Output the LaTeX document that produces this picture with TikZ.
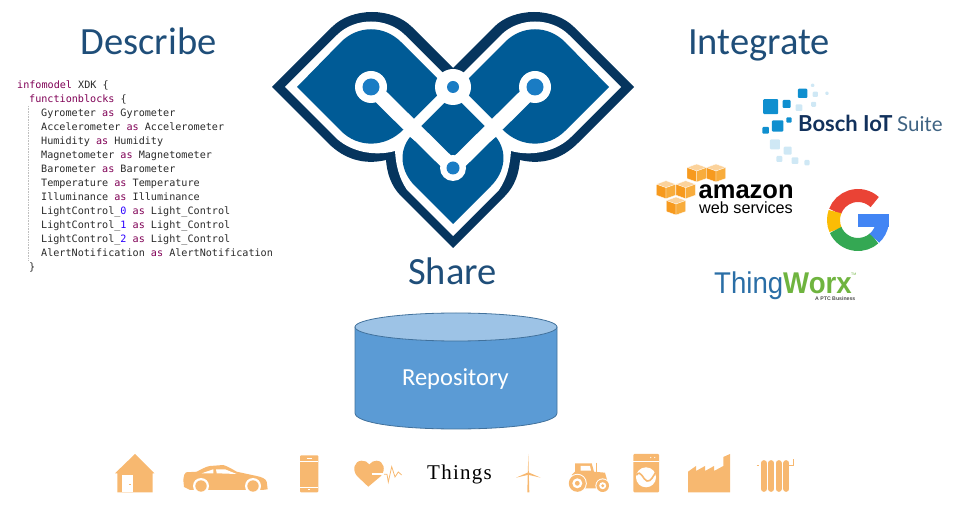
\documentclass[tikz,border=0pt]{standalone}
\usepackage{fontspec}
\setmainfont{Carlito}
\setmonofont{DejaVu Sans Mono}
\newfontfamily\arialfont{Liberation Sans}
\newfontfamily\worxfont[FakeStretch=0.92]{Liberation Sans}
\newfontfamily\thingsfont[LetterSpace=6]{Liberation Serif}
\newfontfamily\boschfont{Lato}
\usetikzlibrary{positioning}

\definecolor{headblue}{HTML}{1F4E79}
\definecolor{logodark}{HTML}{06355E}
\definecolor{logoblue}{HTML}{005B96}
\definecolor{logodot}{HTML}{1A7CC4}
\definecolor{repoblue}{HTML}{5B9BD5}
\definecolor{repotop}{HTML}{9DC3E6}
\definecolor{repoline}{HTML}{41719C}
\definecolor{iconorange}{HTML}{F7B870}
\definecolor{codepurple}{HTML}{7F0055}
\definecolor{codegrey}{HTML}{2A2A2A}
\definecolor{codeblue}{HTML}{2A00FF}
\definecolor{boschdark}{HTML}{0F8FCF}
\definecolor{boschlight}{HTML}{CFE8F5}
\definecolor{boschtext}{HTML}{12315C}
\definecolor{boschsuite}{HTML}{3F6383}
\definecolor{worxblue}{HTML}{2A6EA6}
\definecolor{worxgreen}{HTML}{6FB43F}
\definecolor{awstop}{HTML}{FBD29B}
\definecolor{awsleft}{HTML}{F79A1E}
\definecolor{awsright}{HTML}{F8AC3C}
\definecolor{gred}{HTML}{EA4335}
\definecolor{gyellow}{HTML}{FBBC05}
\definecolor{ggreen}{HTML}{34A853}
\definecolor{gblue}{HTML}{4285F4}
\newcommand{\kw}[1]{\textcolor{codepurple}{#1}}
\newcommand{\num}[1]{\textcolor{codeblue}{#1}}

\begin{document}
\begin{tikzpicture}[
            x=1pt, y=-1pt,
            heading/.style={inner sep=0, anchor=base, text=headblue, font=\fontsize{38.5}{40}\selectfont},
            codeline/.style={inner sep=0, anchor=base west, text=codegrey, font=\ttfamily\fontsize{10.13}{12}\selectfont},
            logotext/.style={inner sep=0, anchor=base west},
            wline/.style={draw=white, line width=15pt},
            cline/.style={draw=white, line width=10pt},
            icon/.style={fill=iconorange},
            iconcut/.style={fill=white}
        ]
\useasboundingbox (0,0) rectangle (967,518);

% headings
\node[heading] (describe) at (148.5,54.3) {Describe};
\node[heading] (integrate) at (759,54.3) {Integrate};
\node[heading] (share) at (452.5,284.5) {Share};

% code
\node[codeline] (model) at (17,89) {\kw{infomodel} XDK \{};
\node[codeline] (blocks) at (29,103) {\kw{functionblocks} \{};
\foreach \fbname/\fbtype [count=\i] in {Gyrometer/Gyrometer, Accelerometer/Accelerometer, Humidity/Humidity, Magnetometer/Magnetometer, Barometer/Barometer, Temperature/Temperature, Illuminance/Illuminance}
    \node[codeline] (fb\i) at (41,{103+14*\i}) {\fbname{} \kw{as} \fbtype};
\node[codeline] (light0) at (41,215) {LightControl\_\num{0} \kw{as} Light\_Control};
\node[codeline] (light1) at (41,229) {LightControl\_\num{1} \kw{as} Light\_Control};
\node[codeline] (light2) at (41,243) {LightControl\_\num{2} \kw{as} Light\_Control};
\node[codeline] (alert) at (41,257) {AlertNotification \kw{as} AlertNotification};
\node[codeline] (close) at (29,271) {\}};
\draw[gray!50, densely dotted, line width=.6pt] (28.5,106) -- (28.5,261);

% logo
\begin{scope}[shift={(453,0)}]
\fill[logodark] (-181,87) -- (-121,27) .. controls (-101,7) and (-61,7) .. (-41,27) -- (0,68)
    -- (41,27) .. controls (61,7) and (101,7) .. (121,27) -- (181,87) -- (125,143)
    .. controls (108,160) and (88,165) .. (67,160) .. controls (66,173) and (62,186) .. (52,196)
    -- (0,248) -- (-52,196) .. controls (-62,186) and (-66,173) .. (-67,160)
    .. controls (-88,165) and (-108,160) .. (-125,143) -- cycle;
\fill[white] (-168,87) -- (-116,35) .. controls (-98,17) and (-66,17) .. (-48,35) -- (0,83)
    -- (48,35) .. controls (66,17) and (98,17) .. (116,35) -- (168,87) -- (118,137)
    .. controls (104,151) and (80,157) .. (58,151) .. controls (57,166) and (54,178) .. (46,190)
    -- (0,236) -- (-46,190) .. controls (-54,178) and (-57,166) .. (-58,151)
    .. controls (-80,157) and (-104,151) .. (-118,137) -- cycle;
\foreach \s in {1,-1} {
    \begin{scope}[xscale=\s]
    \fill[logoblue] (-156,87) -- (-112,42) .. controls (-95,25) and (-69,25) .. (-52,42) -- (-15,79)
        -- (-8,95) -- (-41,128) -- (-50,130) .. controls (-68,148) and (-95,148) .. (-112,131) -- cycle;
    \end{scope}
}
\fill[logoblue] (0,224) -- (-38,186) .. controls (-52,172) and (-55,152) .. (-43,137) -- (0,169)
    -- (43,137) .. controls (55,152) and (52,172) .. (38,186) -- cycle;
\fill[logoblue] (0,87) -- (-41,128) -- (0,169) -- (41,128) -- cycle;
\draw[cline] (0,87) -- (-41,128);
\draw[cline] (0,87) -- (41,128);
\draw[wline] (-82,87) -- (0,168) -- (82,87);
\fill[white] (-82,87) circle[radius=16pt] (82,87) circle[radius=16pt] (0,87) circle[radius=18pt] (0,168) circle[radius=13pt];
\fill[logodot] (-82,87) circle[radius=8.5pt] (82,87) circle[radius=8.5pt] (0,87) circle[radius=6pt] (0,168) circle[radius=6.5pt];
\end{scope}

% repository
\draw[repoline, fill=repoblue, line width=.8pt] (355,327) -- (355,413) .. controls (355,423) and (400,429) .. (456,429)
    .. controls (512,429) and (557,423) .. (557,413) -- (557,327) -- cycle;
\draw[repoline, fill=repotop, line width=.8pt] (456,327) ellipse[x radius=101pt, y radius=14pt];
\node[inner sep=0, anchor=base, text=white, font=\fontsize{24.5}{26}\selectfont] (repo) at (455.5,385.5) {Repository};

% bosch
\begin{scope}[shift={(640,70)}, x=.3333pt, y=-.3333pt]
\foreach \bx/\by/\bs in {392/110/45, 440/102/24, 488/70/28, 413/168/34, 447/150/16, 377/181/20}
    \fill[boschdark, rounded corners=1pt] ({\bx-\bs/2},{\by-\bs/2}) rectangle ({\bx+\bs/2},{\by+\bs/2});
\foreach \bx/\by/\bs in {477/113/20, 526/73/16, 521/103/15, 518/46/10, 561/70/10, 405/223/30, 443/242/24, 418/267/18, 465/272/20, 501/278/16}
    \fill[boschlight, rounded corners=1pt] ({\bx-\bs/2},{\by-\bs/2}) rectangle ({\bx+\bs/2},{\by+\bs/2});
\end{scope}
\node[logotext, text=boschtext, font=\boschfont\bfseries\fontsize{22}{24}\selectfont] (bosch) at (798,131.7) {Bosch IoT};
\node[logotext, text=boschsuite, font=\boschfont\fontsize{20.5}{22}\selectfont] (suite) at (897,131.7) {Suite};

% aws
\foreach \cx/\cy in {696.7/164, 716/164, 666/180.7, 685.7/180.7, 676/197} {
    \begin{scope}[shift={(\cx,\cy)}]
    \fill[awstop, draw=white, line width=.3pt] (0,0) -- (9.7,3.5) -- (0,7) -- (-9.7,3.5) -- cycle;
    \fill[awsleft, draw=white, line width=.3pt] (-9.7,3.5) -- (0,7) -- (0,18) -- (-9.7,14.5) -- cycle;
    \fill[awsright, draw=white, line width=.3pt] (9.7,3.5) -- (0,7) -- (0,18) -- (9.7,14.5) -- cycle;
    \end{scope}
}
\node[logotext, text=black, font=\arialfont\bfseries\fontsize{25.5}{27}\selectfont] (amazon) at (698.5,199) {amazon};
\node[logotext, text=black, font=\arialfont\fontsize{16.2}{18}\selectfont] (webservices) at (699,214) {web services};

% google
\begin{scope}[shift={(858,220)}, y=1pt]
\draw[gred, line width=13pt] (47:24.5pt) arc[start angle=47, end angle=160, radius=24.5pt];
\draw[gyellow, line width=13pt] (160:24.5pt) arc[start angle=160, end angle=204, radius=24.5pt];
\draw[ggreen, line width=13pt] (204:24.5pt) arc[start angle=204, end angle=312, radius=24.5pt];
\draw[gblue, line width=13pt] (312:24.5pt) arc[start angle=312, end angle=352, radius=24.5pt];
\fill[gblue] (0,6) rectangle (30.6,-7);
\end{scope}

% thingworx
\node[logotext, text=worxblue, font=\worxfont\fontsize{30}{32}\selectfont] (thing) at (714,293.5) {Thing};
\node[logotext, text=worxgreen, font=\worxfont\bfseries\fontsize{30}{32}\selectfont] (worx) at (783,293.5) {Worx};
\node[logotext, text=worxgreen, font=\arialfont\fontsize{3.5}{4}\selectfont] (worxtm) at (851,276) {TM};
\node[logotext, text=black!70, font=\arialfont\bfseries\fontsize{5.2}{6}\selectfont] (ptc) at (815,301) {A PTC Business};

% things row
\node[inner sep=0, anchor=base, font=\thingsfont\fontsize{21}{23}\selectfont] (things) at (459.5,480) {Things};

% house
\fill[icon] (135,454) -- (154.3,473.3) -- (152.7,473.3) -- (152.7,492.3) -- (117.3,492.3) -- (117.3,473.3) -- (115,473.3) -- cycle;
\fill[iconcut] (121.7,475) rectangle (133,492.3);
\fill[icon] (128.5,484.5) rectangle (130.5,485.5);

% car
\fill[icon] (183.3,480) .. controls (184,476) and (184,473) .. (186,472.3) -- (196.7,471.7) .. controls (202,469) and (206,466.5) .. (210,466)
    -- (223.3,465) .. controls (228,466.5) and (232,469) .. (236.7,471.7) -- (256.7,476) .. controls (262,477) and (266,479) .. (266.7,481.7)
    -- (267.7,489.3) -- (262,490) -- (190,490) -- (184,487) -- cycle;
\fill[iconcut] (201.7,473.3) -- (213.3,469.3) -- (213.3,473.3) -- cycle;
\fill[iconcut] (216,469.3) -- (225,469.3) -- (236.7,474) -- (216.7,473.3) -- cycle;
\foreach \wx in {201,253} {
    \fill[iconcut] (\wx,486) circle[radius=8pt];
    \fill[icon] (\wx,486) circle[radius=5.7pt];
}

% phone
\fill[icon, rounded corners=1pt] (300,455.3) rectangle (318.3,492.3);
\draw[white, line width=.6pt] (300,461) -- (318.3,461) (300,487) -- (318.3,487);
\draw[white, line width=.7pt] (306.5,458) -- (312,458) (308,489.7) -- (310,489.7);

% heart
\fill[icon] (368.3,486.7) -- (357,476) .. controls (352,470) and (354,461) .. (361.7,460.7)
    .. controls (365,460.5) and (368,462) .. (369.3,464.5) .. controls (371,462) and (374,460.5) .. (376.7,460.7)
    .. controls (384,461) and (386,470) .. (381,476) -- cycle;
\draw[white, line width=1.6pt] (371.7,474.3) -- (384,474.3);
\draw[iconorange, line width=.8pt] (384,474.3) -- (387,474.3) -- (388.3,482) -- (391.7,466.7) -- (395,477) -- (398.3,472) -- (401.7,475);

% turbine
\fill[icon] (527.8,473.3) -- (528.3,454) -- (528.8,473.3) -- (529.3,492.3) -- (527.3,492.3) -- cycle;
\fill[icon] (528.3,472.3) -- (516,477.7) -- (528.3,474.8) -- cycle;
\fill[icon] (528.3,472.3) -- (540.7,477.7) -- (528.3,474.8) -- cycle;

% tractor
\fill[icon] (575,463.3) -- (591.7,463.3) -- (594,471.7) -- (605,472.7) -- (607.3,480.7) -- (598.3,481.7) -- (596.7,488.3)
    -- (585,488.3) -- (571.7,475) -- (575,471.7) -- cycle;
\fill[iconcut] (580.7,466) -- (590,466) -- (591,470.7) -- (580.7,470.7) -- cycle;
\draw[iconorange, line width=1.5pt] (596.7,462.7) -- (596.7,472);
\fill[iconcut] (577.3,483.3) circle[radius=9.5pt] (602.7,485.7) circle[radius=7.3pt];
\fill[icon] (577.3,483.3) circle[radius=8.5pt] (602.7,485.7) circle[radius=6.3pt];
\fill[iconcut] (577.3,483.3) circle[radius=5pt] (602.7,485.7) circle[radius=3.5pt];
\fill[icon] (577.3,483.3) circle[radius=2.4pt] (602.7,485.7) circle[radius=1.6pt];

% washer
\fill[icon, rounded corners=1pt] (633.3,454) rectangle (659,492.3);
\draw[white, line width=.5pt] (633.3,461.7) -- (659,461.7);
\fill[iconcut] (650.7,457.5) circle[radius=.7pt] (654.7,457.5) circle[radius=.7pt];
\fill[iconcut] (646,477.3) circle[radius=10pt];
\draw[iconorange, line width=1.6pt] (636.5,475) .. controls (641,469) and (643,480) .. (647,481) .. controls (651,482) and (653,476) .. (656,472);

% factory
\fill[icon] (688,492.3) -- (688,471.7) -- (696,466) -- (696,471) -- (705,466) -- (705,471) -- (714,466) -- (714,471) -- (723.3,466)
    -- (723.3,457) -- (730,454) -- (730,492.3) -- cycle;

% radiator
\foreach \rx in {763.8,771.2,778.7,786.3}
    \draw[iconorange, line width=5.7pt, line cap=round] (\rx,463) -- (\rx,489);
\draw[iconorange, line width=.7pt] (756.5,465) -- (758.5,465);
\draw[iconorange, line width=.7pt] (789.3,465) -- (793.3,465) -- (793.3,459.5);
\end{tikzpicture}
\end{document}
